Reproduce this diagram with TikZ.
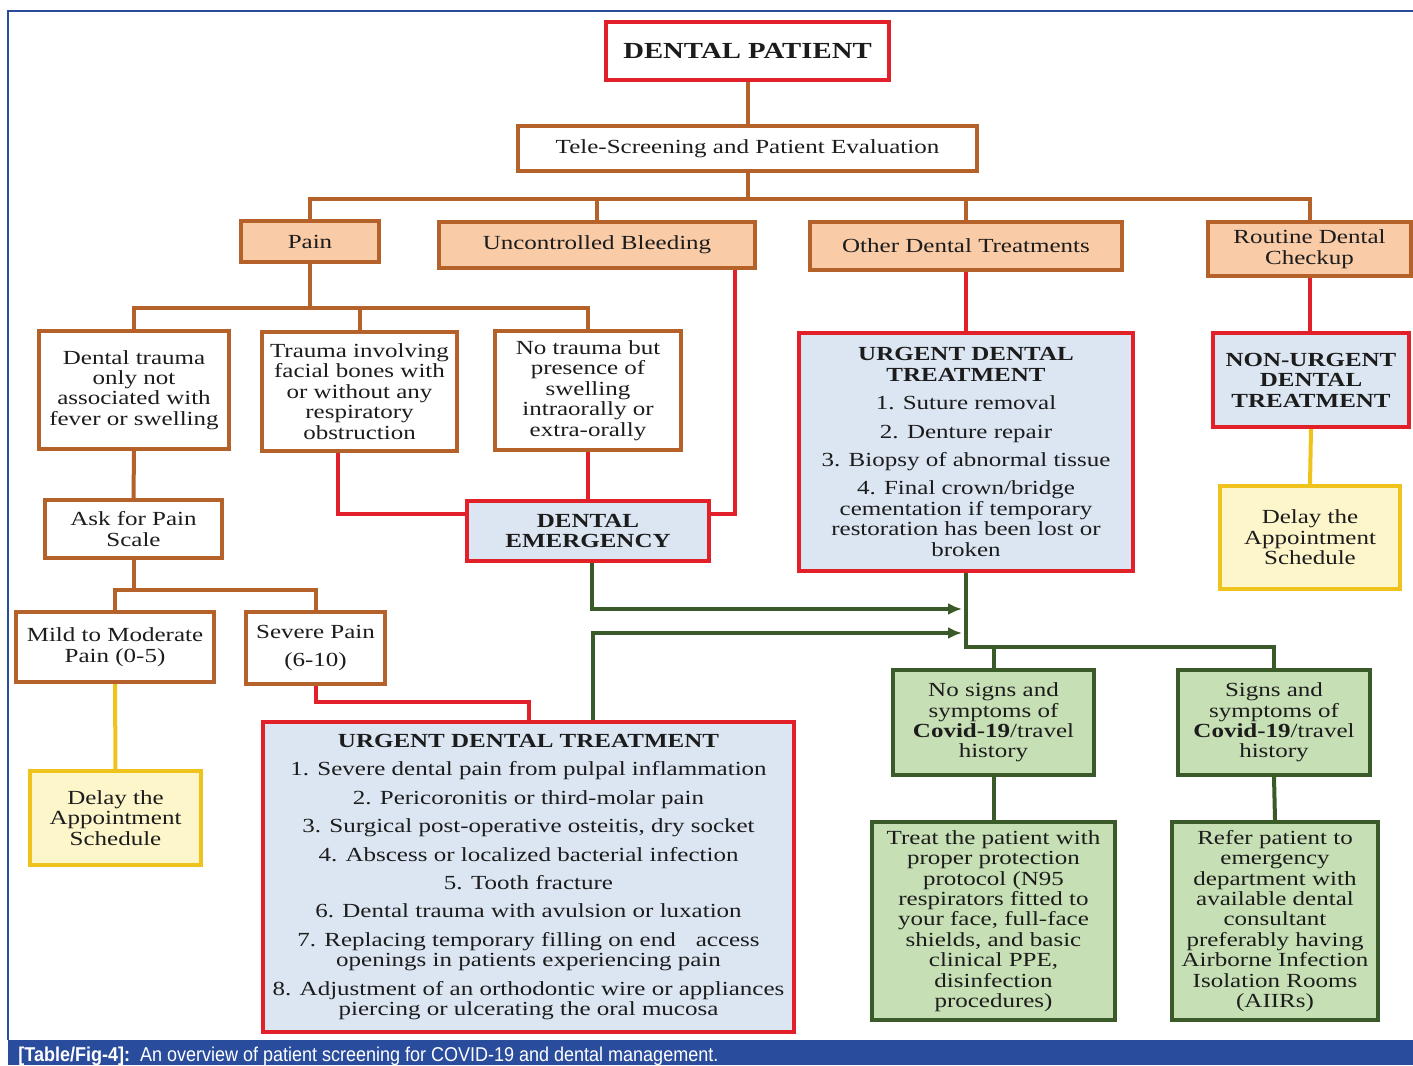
\documentclass[tikz,border=0pt]{standalone}
\usepackage{fontspec}
\setmainfont[FakeStretch=1.25]{Liberation Serif}
\newfontfamily\capfont[FakeStretch=0.9]{Liberation Sans}
\usetikzlibrary{arrows.meta}
\pgfdeclarelayer{back}
\pgfdeclarelayer{bg}
\pgfsetlayers{back,bg,main}
\definecolor{cred}{HTML}{E2202A}
\definecolor{cbrown}{HTML}{B5622A}
\definecolor{cpeach}{HTML}{F9CBA7}
\definecolor{cblue}{HTML}{DCE6F2}
\definecolor{cyel}{HTML}{F0C21C}
\definecolor{cyelfill}{HTML}{FDF6CB}
\definecolor{cgreen}{HTML}{3B5A2A}
\definecolor{cgreenfill}{HTML}{C6DFB4}
\definecolor{cframe}{HTML}{2A4C9C}
\definecolor{ctext}{HTML}{1C1C1C}
\newcommand\mkbox[7]{\node[#1,minimum width={(#5-#3)*0.5pt},minimum height={(#6-#4)*0.5pt}] (#2) at ({(#3+#5)/2},{(#4+#6)/2}) {#7};}
\tikzset{
  boxbase/.style={draw, line width=1.8pt, inner sep=0pt, align=center, text=ctext, font=\fontsize{10}{10.2}\selectfont},
  brownbox/.style={boxbase, draw=cbrown, fill=white},
  peachbox/.style={boxbase, draw=cbrown, fill=cpeach},
  redbox/.style={boxbase, draw=cred, fill=white},
  bluebox/.style={boxbase, draw=cred, fill=cblue},
  yelbox/.style={boxbase, draw=cyel, fill=cyelfill},
  greenbox/.style={boxbase, draw=cgreen, fill=cgreenfill},
  brownline/.style={draw=cbrown, line width=2pt},
  redline/.style={draw=cred, line width=2pt},
  yelline/.style={draw=cyel, line width=2pt},
  greenline/.style={draw=cgreen, line width=2pt},
  tip/.style={-{Latex[length=7pt,width=6pt]}}
}
\begin{document}
\begin{tikzpicture}[x=0.5pt,y=-0.5pt]
\begin{pgfonlayer}{back}
\useasboundingbox (0,0) rectangle (1413,1065);
\fill[white] (0,0) rectangle (1413,1065);
\draw[cframe, line width=0.8pt] (8,1040) -- (8,11) -- (1413,11);
\fill[cframe] (8,1040) rectangle (1413,1065);
\end{pgfonlayer}
\node[anchor=base west, text=white, inner sep=0pt, font=\capfont\fontsize{10}{11}\selectfont] (cap) at (18,1061) {\textbf{[Table/Fig-4]:}\ \ An overview of patient screening for COVID-19 and dental management.};

\mkbox{redbox}{patient}{606}{22}{889}{80}{\fontsize{11.5}{13}\selectfont\bfseries DENTAL PATIENT}
\mkbox{brownbox}{tele}{518}{126}{977}{171}{Tele-Screening and Patient Evaluation}
\mkbox{peachbox}{pain}{241}{221}{379}{262}{Pain}
\mkbox{peachbox}{bleed}{439}{222}{755}{268}{Uncontrolled Bleeding}
\mkbox{peachbox}{other}{810}{222}{1122}{270}{Other Dental Treatments}
\mkbox{peachbox}{routine}{1208}{222}{1411}{276}{Routine Dental\\Checkup}
\mkbox{brownbox}{dtrauma}{39}{331}{229}{449}{Dental trauma\\only not\\associated with\\fever or swelling}
\mkbox{brownbox}{tinv}{262}{332}{457}{451}{Trauma involving\\facial bones with\\or without any\\respiratory\\obstruction}
\mkbox{brownbox}{notr}{495}{331}{681}{450}{No trauma but\\presence of\\swelling\\intraorally or\\extra-orally}
\mkbox{brownbox}{ask}{45}{500}{222}{558}{Ask for Pain\\Scale}
\mkbox{brownbox}{mild}{16}{612}{214}{682}{Mild to Moderate\\Pain (0-5)}
\mkbox{brownbox}{severe}{246}{612}{385}{684}{Severe Pain\\[4pt](6-10)}
\mkbox{yelbox}{delayL}{30}{771}{201}{865}{Delay the\\Appointment\\Schedule}
\mkbox{bluebox}{emerg}{467}{501}{709}{561}{\bfseries DENTAL\\\bfseries EMERGENCY}
\mkbox{bluebox}{urgB}{263}{722}{794}{1032}{\textbf{URGENT DENTAL TREATMENT}\\[4pt]1. Severe dental pain from pulpal inflammation\\[4pt]2. Pericoronitis or third-molar pain\\[4pt]3. Surgical post-operative osteitis, dry socket\\[4pt]4. Abscess or localized bacterial infection\\[4pt]5. Tooth fracture\\[4pt]6. Dental trauma with avulsion or luxation\\[4pt]7. Replacing temporary filling on end\quad access\\openings in patients experiencing pain\\[4pt]8. Adjustment of an orthodontic wire or appliances\\piercing or ulcerating the oral mucosa}
\mkbox{bluebox}{urgT}{799}{333}{1133}{571}{\textbf{URGENT DENTAL}\\\textbf{TREATMENT}\\[4pt]1. Suture removal\\[4pt]2. Denture repair\\[4pt]3. Biopsy of abnormal tissue\\[4pt]4. Final crown/bridge\\cementation if temporary\\restoration has been lost or\\broken}
\mkbox{bluebox}{nonurg}{1213}{333}{1409}{427}{\bfseries NON-URGENT\\\bfseries DENTAL\\\bfseries TREATMENT}
\mkbox{yelbox}{delayR}{1220}{486}{1400}{589}{Delay the\\Appointment\\Schedule}
\mkbox{greenbox}{nosigns}{893}{670}{1094}{775}{No signs and\\symptoms of\\\textbf{Covid-19}/travel\\history}
\mkbox{greenbox}{signs}{1178}{670}{1370}{775}{Signs and\\symptoms of\\\textbf{Covid-19}/travel\\history}
\mkbox{greenbox}{treat}{872}{822}{1115}{1020}{Treat the patient with\\proper protection\\protocol (N95\\respirators fitted to\\your face, full-face\\shields, and basic\\clinical PPE,\\disinfection\\procedures)}
\mkbox{greenbox}{refer}{1172}{822}{1378}{1020}{Refer patient to\\emergency\\department with\\available dental\\consultant\\preferably having\\Airborne Infection\\Isolation Rooms\\(AIIRs)}

\begin{pgfonlayer}{bg}
\draw[brownline] (patient.south) -- (tele.north);
\coordinate (b1) at (747.5,199);
\draw[brownline] (tele.south) -- (b1);
\draw[brownline] (pain.north) |- (routine.north |- b1) -- (routine.north);
\draw[brownline] (bleed.north) -- (bleed.north |- b1);
\draw[brownline] (other.north) -- (other.north |- b1);
\coordinate (b2) at (310,308);
\draw[brownline] (pain.south) -- (b2);
\draw[brownline] (dtrauma.north) |- (notr.north |- b2) -- (notr.north);
\draw[brownline] (tinv.north) -- (tinv.north |- b2);
\draw[brownline] (dtrauma.south) -- (ask.north);
\coordinate (b3) at (133.5,590);
\draw[brownline] (ask.south) -- (b3);
\draw[brownline] (mild.north) |- (severe.north |- b3) -- (severe.north);
\draw[yelline] (mild.south) -- (delayL.north);
\draw[redline] ([xshift=-11pt]tinv.south) |- ([yshift=8.5pt]emerg.west);
\draw[redline] (notr.south) -- (emerg.north);
\draw[redline] ([xshift=69pt]bleed.south) |- ([yshift=8.5pt]emerg.east);
\draw[redline] (other.south) -- (urgT.north);
\draw[redline] (routine.south) -- (routine.south |- nonurg.north);
\draw[yelline] (nonurg.south) -- (delayR.north);
\coordinate (r1) at (315.5,702);
\draw[redline] (severe.south) -- (r1) -| (urgB.north);
\coordinate (arA) at (962,609);
\coordinate (arB) at (962,633);
\draw[greenline,tip] ([xshift=2pt]emerg.south) |- (arA);
\draw[greenline,tip] ([xshift=32pt]urgB.north) |- (arB);
\coordinate (g1) at (966,647);
\draw[greenline] (urgT.south) -- (g1) -| (signs.north);
\draw[greenline] (nosigns.north) -- (nosigns.north |- g1);
\draw[greenline] (nosigns.south) -- (treat.north);
\draw[greenline] (signs.south) -- (refer.north);
\end{pgfonlayer}
\end{tikzpicture}
\end{document}
